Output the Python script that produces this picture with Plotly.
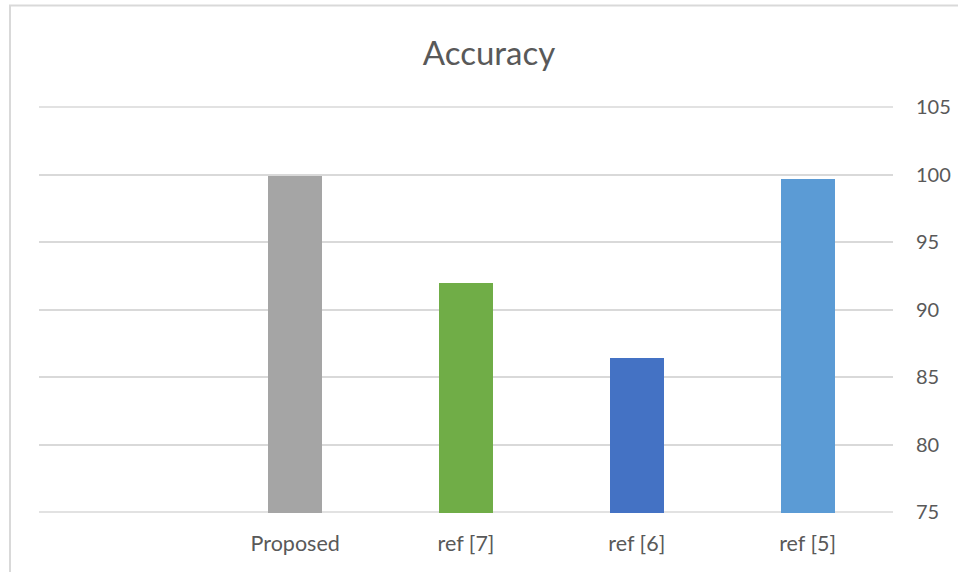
import plotly.graph_objects as go

# Accuracy of each method (%); the first slot on the axis is left empty
categories = ["", "Proposed", "ref [7]", "ref [6]", "ref [5]"]
accuracy = [None, 99.9, 92.0, 86.4, 99.7]
bar_colors = ["#a5a5a5", "#a5a5a5", "#70ad47", "#4472c4", "#5b9bd5"]
y_ticks = [75, 80, 85, 90, 95, 100, 105]

positions = list(range(len(categories)))
grid_color = "#d9d9d9"

fig = go.Figure(
    go.Bar(
        x=positions,
        y=accuracy,
        marker=dict(color=bar_colors, line=dict(width=0)),
        width=0.316,
        hoverinfo="x+y",
    )
)

font_family = "Lato, 'Open Sans', sans-serif"
text_color = "#595959"

# gridlines at both ends of the value axis, which plotly leaves out
edge_lines = [
    dict(
        type="line",
        xref="paper",
        yref="y",
        x0=0,
        x1=1,
        y0=v,
        y1=v,
        line=dict(color=grid_color, width=1.5),
        layer="below",
    )
    for v in (y_ticks[0], y_ticks[-1])
]

fig.update_layout(
    width=958,
    height=572,
    margin=dict(l=39, r=65, t=106, b=59, autoexpand=False),
    paper_bgcolor="white",
    plot_bgcolor="white",
    showlegend=False,
    bargap=0,
    font=dict(family=font_family, color=text_color, size=20),
    title=dict(
        text="Accuracy",
        x=489 / 958,
        xanchor="center",
        y=1 - 53 / 572,
        yanchor="middle",
        font=dict(size=33, color=text_color, family=font_family),
    ),
    xaxis=dict(
        tickmode="array",
        tickvals=positions,
        ticktext=categories,
        range=[-0.5, len(categories) - 0.5],
        showgrid=False,
        zeroline=False,
        showline=False,
        ticks="",
        automargin=False,
        ticklabelstandoff=15,
        tickfont=dict(size=21.5, color=text_color),
    ),
    yaxis=dict(
        side="right",
        range=[74.926, 105.074],
        tickmode="array",
        tickvals=y_ticks,
        showgrid=True,
        gridcolor=grid_color,
        gridwidth=1.5,
        zeroline=False,
        showline=False,
        ticks="",
        automargin=False,
        ticklabelstandoff=22,
        tickfont=dict(size=20, color=text_color),
    ),
    shapes=edge_lines
    + [
        # outer chart frame
        dict(
            type="rect",
            xref="paper",
            yref="paper",
            x0=(10 - 39) / 854,
            x1=(990 - 39) / 854,
            y0=(512 - 600) / 405,
            y1=(512 - 7) / 405,
            line=dict(color=grid_color, width=2),
            fillcolor="rgba(0,0,0,0)",
            layer="below",
        )
    ],
)

fig.write_html("out.html")
